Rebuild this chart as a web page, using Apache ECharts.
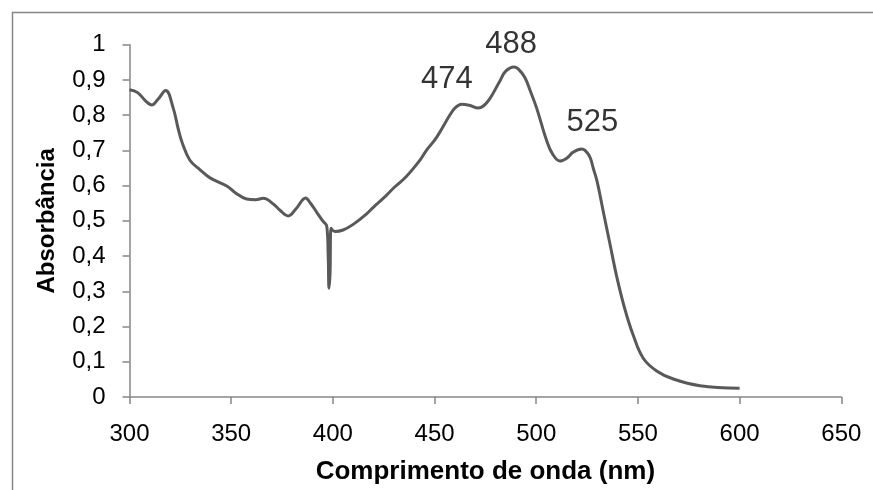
<!DOCTYPE html>
<html>
<head>
<meta charset="utf-8">
<script src="https://cdn.jsdelivr.net/npm/echarts@6/dist/echarts.min.js"></script>
<style>html,body{margin:0;padding:0;background:#fff;}#c{width:873px;height:490px;}</style>
</head>
<body>
<div id="c"></div>
<script>
// Wavelength (nm) and absorbance values
var wavelength = [300,304,308,311,314,317.8,321.5,324,326,329.7,334.7,339.6,347.8,352,357.6,362,365.8,370.7,374,378,382,386.6,389,392,395,397,397.7,398.1,398.6,399.1,401,405,410,416.6,420,425,430,436,442.8,446,451,457.6,460,463.3,467,471.5,474,477.2,482.2,485,489,491,494.4,497,500.2,505.1,508,511.7,515,518.2,522.3,524,526.4,528,530,533,536.3,539.6,543.6,547.7,552.6,559.2,567.4,580.5,600];
var absorbance = [0.872,0.864,0.84,0.829,0.845,0.870,0.82,0.76,0.72,0.672,0.645,0.622,0.599,0.58,0.562,0.560,0.564,0.548,0.530,0.514,0.535,0.565,0.550,0.525,0.500,0.485,0.40,0.309,0.35,0.479,0.47,0.474,0.49,0.52,0.539,0.565,0.594,0.625,0.672,0.70,0.737,0.801,0.82,0.831,0.828,0.820,0.826,0.847,0.898,0.925,0.937,0.932,0.907,0.87,0.820,0.728,0.69,0.670,0.678,0.695,0.704,0.700,0.681,0.65,0.61,0.525,0.433,0.341,0.249,0.175,0.110,0.074,0.051,0.032,0.025];
// Peak annotations (text and anchor in data units)
var peakText = ['474','488','525'];
var peakX = [456, 487.6, 527.6];
var peakY = [0.902, 1.002, 0.778];
var xTicks = [300,350,400,450,500,550,600,650];
var yTicks = [0,0.1,0.2,0.3,0.4,0.5,0.6,0.7,0.8,0.9,1];

var chart = echarts.init(document.getElementById('c'), null, {renderer:'canvas'});
var font = 'Liberation Sans, Arial, sans-serif';
var axisGray = '#868686';
chart.setOption({
  animation: false,
  backgroundColor: '#fff',
  graphic: [{
    type: 'rect', left: 10, top: 10, z: -1,
    shape: {width: 900, height: 520},
    style: {fill: 'none', stroke: axisGray, lineWidth: 1.5}
  }],
  grid: {left: 129.5, right: 31.7, top: 44.7, bottom: 83.3, containLabel: false},
  xAxis: {
    type: 'value', min: xTicks[0], max: xTicks[xTicks.length-1], interval: 50,
    name: 'Comprimento de onda (nm)', nameLocation: 'middle', nameGap: 62,
    nameTextStyle: {fontFamily: font, fontWeight: 'bold', fontSize: 26, color: '#000'},
    axisLine: {show: true, lineStyle: {color: axisGray, width: 1.5}},
    axisTick: {show: true, inside: false, length: 7, lineStyle: {color: axisGray, width: 1.5}},
    axisLabel: {fontFamily: font, fontSize: 24, color: '#000', margin: 25},
    splitLine: {show: false}
  },
  yAxis: {
    type: 'value', min: yTicks[0], max: yTicks[yTicks.length-1], interval: 0.1,
    name: 'Absorbância', nameLocation: 'middle', nameGap: 70, nameRotate: 90,
    nameTextStyle: {fontFamily: font, fontWeight: 'bold', fontSize: 24, color: '#000'},
    axisLine: {show: true, lineStyle: {color: axisGray, width: 1.5}},
    axisTick: {show: true, inside: false, length: 7, lineStyle: {color: axisGray, width: 1.5}},
    axisLabel: {fontFamily: font, fontSize: 24, color: '#000', margin: 24,
      formatter: function(v){ return String(Math.round(v*10)/10).replace('.', ','); }},
    splitLine: {show: false}
  },
  series: [{
    type: 'line',
    data: wavelength.map(function(x,i){ return [x, absorbance[i]]; }),
    showSymbol: false, symbol: 'none',
    smooth: 0.4,
    lineStyle: {color: '#595959', width: 3},
    z: 3
  }, {
    type: 'scatter',
    data: peakX.map(function(x,i){ return {value: [x, peakY[i]], name: peakText[i]}; }),
    symbolSize: 0, clip: false,
    label: {show: true, position: 'inside', formatter: '{b}', fontFamily: font, fontSize: 31, color: '#000'},
    silent: true, z: 4
  }]
});
</script>
</body>
</html>
